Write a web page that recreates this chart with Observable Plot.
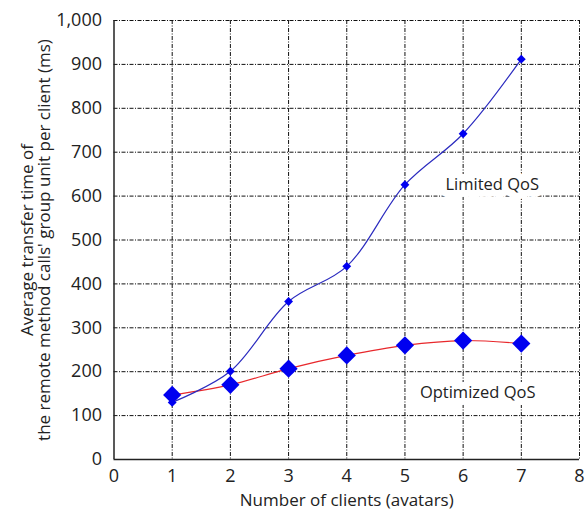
<!DOCTYPE html>
<html>
<head>
<meta charset="utf-8">
<script src="https://cdn.jsdelivr.net/npm/d3@7"></script>
<script src="https://cdn.jsdelivr.net/npm/@observablehq/plot@0.6"></script>
<style>
  html, body { margin: 0; padding: 0; background: #fff; }
  #chart svg { display: block; }
</style>
</head>
<body>
<div id="chart"></div>
<script>
const clients = [1, 2, 3, 4, 5, 6, 7];
const limitedQoS = [130, 201, 360, 440, 626, 742, 912];
const optimizedQoS = [147, 170, 207, 237, 260, 271, 264];
const xTicks = [0, 1, 2, 3, 4, 5, 6, 7, 8];
const yTicks = [0, 100, 200, 300, 400, 500, 600, 700, 800, 900, 1000];
const seriesLabels = [
  {name: "Limited QoS", x: 6.5, y: 626},
  {name: "Optimized QoS", x: 6.25, y: 153}
];
const xLabel = "Number of clients (avatars)";
const yLabel = "Average transfer time of\nthe remote method calls' group unit per client (ms)";

const limited = clients.map((c, i) => ({x: c, y: limitedQoS[i]}));
const optimized = clients.map((c, i) => ({x: c, y: optimizedQoS[i]}));

const font = "'Open Sans', sans-serif";
const gridStyle = {stroke: "#111", strokeOpacity: 1, strokeWidth: 1, strokeDasharray: "4,1.5,1,1.5"};

const chart = Plot.plot({
  width: 587,
  height: 513,
  marginLeft: 113.5,
  marginRight: 8,
  marginTop: 20,
  marginBottom: 54,
  style: {fontFamily: font, fontSize: "16px", color: "#222", background: "#fff"},
  x: {domain: [0, 8], ticks: xTicks},
  y: {domain: [0, 1000], ticks: yTicks},
  marks: [
    Plot.gridX(xTicks.slice(1), gridStyle),
    Plot.gridY(yTicks.slice(1), gridStyle),
    Plot.text(seriesLabels, {x: "x", y: "y", text: "name", fill: "#222", stroke: "white", strokeWidth: 14, fontSize: 16.5, textAnchor: "middle"}),
    Plot.ruleX([0], {stroke: "#222", strokeWidth: 1.5}),
    Plot.ruleY([0], {stroke: "#222", strokeWidth: 1.5}),
    Plot.axisX({ticks: xTicks, tickSize: 0, tickPadding: 10, fontSize: 18, label: null}),
    Plot.axisY({ticks: yTicks, tickSize: 0, tickPadding: 12, fontSize: 18, label: null, tickFormat: d3.format(",")}),
    Plot.text([xLabel], {frameAnchor: "bottom", dy: 46, fontSize: 17, fill: "#222"}),
    Plot.text([yLabel], {frameAnchor: "left", dx: -78, rotate: -90, textAnchor: "middle", lineAnchor: "middle", lineHeight: 1.0, fontSize: 17, fill: "#222"}),
    Plot.line(optimized, {x: "x", y: "y", stroke: "#e8282c", strokeWidth: 1.2, curve: "catmull-rom"}),
    Plot.dot(optimized, {x: "x", y: "y", symbol: "diamond2", r: 8.2, fill: "#0000f0", stroke: "none"}),
    Plot.line(limited, {x: "x", y: "y", stroke: "#2b2bbf", strokeWidth: 1.2, curve: "catmull-rom"}),
    Plot.dot(limited, {x: "x", y: "y", symbol: "diamond2", r: 4, fill: "#0000f0", stroke: "none"})
  ]
});
document.getElementById("chart").appendChild(chart);
</script>
</body>
</html>
